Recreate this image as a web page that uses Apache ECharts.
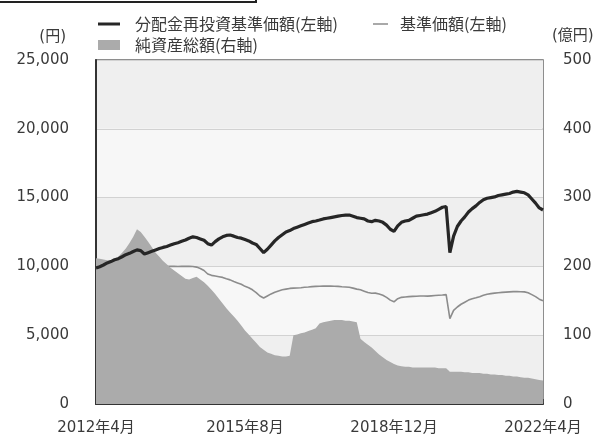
<!DOCTYPE html>
<html>
<head>
<meta charset="utf-8">
<script src="https://cdn.jsdelivr.net/npm/echarts@6/dist/echarts.min.js"></script>
<style>
  html, body { margin: 0; padding: 0; background: #fff; }
  #chart { width: 600px; height: 440px; }
</style>
</head>
<body>
<div id="chart"></div>
<script>
// Monthly labels, April 2012 through April 2022
const months = [];
for (let i = 0; i <= 120; i++) {
  const y = 2012 + Math.floor((3 + i) / 12);
  const m = ((3 + i) % 12) + 1;
  months.push(y + '年' + m + '月');
}
const tickLabels = ['2012年4月', '2015年8月', '2018年12月', '2022年4月'];

// 分配金再投資基準価額 (円, left axis)
const navReinvested = [
  9880, 9980, 10100, 10250, 10350, 10480, 10560, 10700, 10850, 10950,
  11080, 11200, 11150, 10900, 11000, 11100, 11200, 11300, 11380, 11450,
  11550, 11650, 11720, 11820, 11920, 12050, 12150, 12100, 12000, 11900,
  11650, 11550, 11800, 12000, 12150, 12250, 12280, 12200, 12100, 12050,
  11950, 11850, 11700, 11600, 11300, 11000, 11250, 11550, 11850, 12100,
  12300, 12500, 12600, 12750, 12850, 12950, 13050, 13150, 13250, 13300,
  13370, 13450, 13500, 13550, 13600, 13650, 13700, 13720, 13730, 13650,
  13550, 13500, 13450, 13300, 13250, 13350, 13300, 13200, 13000, 12700,
  12550, 12950, 13200, 13300, 13350, 13500, 13650, 13700, 13750, 13800,
  13900, 14000, 14150, 14300, 14350, 11000, 12200, 12900, 13300, 13600,
  13950, 14200, 14400, 14650, 14850, 14950, 15000, 15050, 15150, 15200,
  15250, 15300, 15400, 15450, 15400, 15350, 15200, 14900, 14600, 14250,
  14100
];

// 基準価額 (円, left axis)
const nav = [
  9880, 9980, 10100, 10200, 10250, 10300, 10200, 10100, 10150, 10100,
  10050, 10150, 10100, 9950, 9980, 10000, 10000, 10000, 10000, 9990,
  10000, 10000, 9990, 10000, 10000, 10000, 9990, 9950, 9850, 9700,
  9450, 9350, 9300, 9250, 9200, 9100, 9020, 8900, 8800, 8700,
  8550, 8450, 8300, 8100, 7850, 7700, 7850, 8000, 8120, 8220,
  8300, 8350, 8400, 8420, 8430, 8450, 8480, 8500, 8530, 8550,
  8560, 8570, 8580, 8570, 8560, 8550, 8520, 8500, 8480, 8420,
  8350, 8300, 8200, 8100, 8050, 8060, 8000, 7900, 7750, 7550,
  7430, 7650, 7750, 7780, 7800, 7820, 7830, 7850, 7850, 7840,
  7860, 7880, 7900, 7920, 7950, 6200, 6800, 7050, 7250, 7400,
  7550, 7650, 7720, 7800, 7900, 7980, 8020, 8060, 8090, 8110,
  8130, 8150, 8170, 8180, 8160, 8150, 8080, 7950, 7800, 7620,
  7500
];

// 純資産総額 (億円, right axis)
const netAssets = [
  212, 211, 210, 209, 209, 211, 214, 220, 226, 234,
  243, 254, 250, 243, 236, 228, 220, 214, 208, 203,
  198, 194, 190, 186, 182, 181, 183, 185, 181, 177,
  172, 166, 160, 153, 146, 139, 133, 127, 121, 114,
  107, 101, 95, 89, 83, 79, 75, 73, 71, 70,
  69, 69, 70, 100, 101, 103, 104, 106, 108, 110,
  117, 119, 120, 121, 122, 122, 122, 121, 121, 120,
  119, 95, 90, 86, 82, 77, 72, 68, 64, 61,
  58, 56, 55, 54, 54, 53, 53, 53, 53, 53,
  53, 53, 52, 52, 52, 47, 47, 47, 47, 46,
  46, 45, 45, 45, 44, 44, 43, 43, 42, 42,
  41, 41, 40, 40, 39, 38, 38, 37, 36, 35,
  34
];

const leftTicks = [0, 5000, 10000, 15000, 20000, 25000];
const rightTicks = [0, 100, 200, 300, 400, 500];

const NAME_REINV = '分配金再投資基準価額(左軸)';
const NAME_NAV = '基準価額(左軸)';
const NAME_ASSETS = '純資産総額(右軸)';

const numFont = "'DejaVu Sans', 'Noto Sans CJK JP', sans-serif";
const cjkFont = "'Noto Sans CJK JP', sans-serif";
const textColor = '#3a3a3a';

const chart = echarts.init(document.getElementById('chart'), null, { renderer: 'canvas' });

const isTick = (i) => tickLabels.indexOf(months[i]) !== -1;

const legendText = { fontFamily: cjkFont, fontSize: 16, color: textColor };

chart.setOption({
  animation: false,
  backgroundColor: '#ffffff',
  grid: {
    left: 96, right: 57, top: 60, bottom: 36,
    show: true, borderColor: '#6a6a6a', borderWidth: 1.5,
    backgroundColor: 'transparent'
  },
  legend: [
    {
      left: 93, top: 11, selectedMode: false,
      itemWidth: 22, itemHeight: 3,
      textStyle: Object.assign({ padding: [0, 0, 0, 10] }, legendText),
      data: [{ name: NAME_REINV, icon: 'rect', itemStyle: { color: '#262626' } }]
    },
    {
      left: 368, top: 11, selectedMode: false,
      itemWidth: 15, itemHeight: 1.5,
      textStyle: Object.assign({ padding: [0, 0, 0, 7] }, legendText),
      data: [{ name: NAME_NAV, icon: 'rect', itemStyle: { color: '#8c8c8c' } }]
    },
    {
      left: 93, top: 32, selectedMode: false,
      itemWidth: 22, itemHeight: 10,
      textStyle: Object.assign({ padding: [0, 0, 0, 10] }, legendText),
      data: [{ name: NAME_ASSETS, icon: 'rect', itemStyle: { color: '#ababab' } }]
    }
  ],
  xAxis: {
    type: 'category',
    data: months,
    boundaryGap: false,
    axisLine: { show: true, lineStyle: { color: '#333', width: 2 } },
    axisTick: {
      show: true, inside: true, length: 5,
      interval: (i) => isTick(i),
      lineStyle: { color: '#333', width: 1.5 }
    },
    axisLabel: {
      interval: (i) => isTick(i),
      margin: 17,
      fontFamily: numFont, fontSize: 15, color: textColor,
      showMinLabel: true, showMaxLabel: true
    },
    splitLine: { show: false }
  },
  yAxis: [
    {
      type: 'value',
      min: leftTicks[0], max: leftTicks[leftTicks.length - 1], interval: 5000,
      axisLine: { show: true, lineStyle: { color: '#333', width: 2 } },
      axisTick: { show: false },
      axisLabel: {
        margin: 27,
        fontFamily: numFont, fontSize: 15, color: textColor,
        formatter: (v) => v.toLocaleString('en-US')
      },
      splitLine: { show: true, lineStyle: { color: '#d2d2d2', width: 1 } },
      splitArea: { show: true, areaStyle: { color: ['#efefef', '#f7f7f7'] } }
    },
    {
      type: 'value',
      min: rightTicks[0], max: rightTicks[rightTicks.length - 1], interval: 100,
      position: 'right',
      axisLine: { show: false },
      axisTick: { show: false },
      axisLabel: {
        margin: 20,
        fontFamily: numFont, fontSize: 15, color: textColor
      },
      splitLine: { show: false }
    }
  ],
  graphic: [
    {
      type: 'rect', silent: true,
      shape: { x: -3, y: -40, width: 259, height: 42 },
      style: { fill: 'none', stroke: '#222', lineWidth: 2 }
    },
    {
      type: 'text', x: 66, y: 37,
      style: {
        text: '(円)', fontFamily: numFont, fontSize: 15, fill: textColor,
        textAlign: 'right', textVerticalAlign: 'middle'
      }
    },
    {
      type: 'text', x: 552, y: 36,
      style: {
        text: '(億円)', fontFamily: numFont, fontSize: 15, fill: textColor,
        textAlign: 'left', textVerticalAlign: 'middle'
      }
    }
  ],
  series: [
    {
      name: NAME_NAV,
      type: 'line',
      yAxisIndex: 0,
      data: nav,
      symbol: 'none',
      lineStyle: { width: 1.6, color: '#8c8c8c' },
      itemStyle: { color: '#8c8c8c' },
      z: 2
    },
    {
      name: NAME_ASSETS,
      type: 'line',
      yAxisIndex: 1,
      data: netAssets,
      symbol: 'none',
      lineStyle: { width: 0, color: '#ababab' },
      itemStyle: { color: '#ababab' },
      areaStyle: { color: '#ababab', opacity: 1 },
      z: 3
    },
    {
      name: NAME_REINV,
      type: 'line',
      yAxisIndex: 0,
      data: navReinvested,
      symbol: 'none',
      lineStyle: { width: 3.2, color: '#262626' },
      itemStyle: { color: '#262626' },
      z: 4
    }
  ]
});
</script>
</body>
</html>
